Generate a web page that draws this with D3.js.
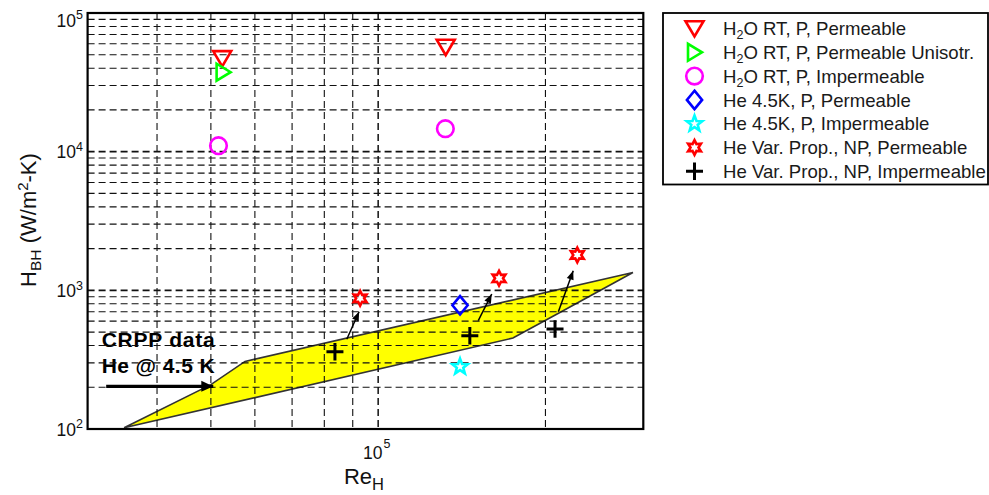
<!DOCTYPE html>
<html><head><meta charset="utf-8">
<script src="https://cdn.jsdelivr.net/npm/d3@7"></script>
<style>body{margin:0;background:#fff;} text{font-family:Arial,"Liberation Sans",sans-serif;}</style>
</head><body><svg id="c" width="989" height="495"></svg>
<script>
// ---- data ----
const xDomain = [3e4, 3e5];
const yDomain = [1e2, 1e5];
const xTickValues = [1e5];
const xTickExp = ["5"];
const yTickValues = [1e2, 1e3, 1e4, 1e5];
const yTickExp = ["2", "3", "4", "5"];

const h2oPermX = [5.24e4, 1.323e5];
const h2oPermY = [4.70e4, 5.68e4];
const h2oUniX = [5.26e4];
const h2oUniY = [3.74e4];
const h2oImpX = [5.16e4, 1.321e5];
const h2oImpY = [1.104e4, 1.464e4];
const he45PermX = [1.404e5];
const he45PermY = [780];
const he45ImpX = [1.404e5];
const he45ImpY = [281];
const heVarPermX = [9.28e4, 1.65e5, 2.282e5];
const heVarPermY = [876, 1221, 1798];
const heVarImpX = [8.36e4, 1.462e5, 2.081e5];
const heVarImpY = [361, 470, 526];

// CRPP data band (He @ 4.5 K)
const crppX = [3.49e4, 5.0e4, 5.76e4, 2.874e5, 2.107e5, 1.748e5];
const crppY = [102, 209, 307, 1345, 681, 453];

// arrows from NP-impermeable toward NP-permeable
const arrFromX = [8.78e4, 1.514e5, 2.110e5];
const arrFromY = [444, 604, 701];
const arrToX = [9.24e4, 1.601e5, 2.244e5];
const arrToY = [701, 941, 1386];

const crppArrowX = [3.24e4, 5.05e4];
const crppArrowY = [203, 203];
const crppTextX = [3.18e4, 3.18e4];
const crppTextY = [388, 252];
const crppText = ["CRPP data", "He @ 4.5 K"];

const legendLabels = [
  ["H", "2", "O RT, P, Permeable"],
  ["H", "2", "O RT, P, Permeable Unisotr."],
  ["H", "2", "O RT, P, Impermeable"],
  ["He 4.5K, P, Permeable"],
  ["He 4.5K, P, Impermeable"],
  ["He Var. Prop., NP, Permeable"],
  ["He Var. Prop., NP, Impermeable"]
];

// ---- chart ----
const svg = d3.select("#c");
const x = d3.scaleLog().domain(xDomain).range([87.6, 643.3]);
const y = d3.scaleLog().domain(yDomain).range([429, 13]);

const defs = svg.append("defs");
defs.append("marker").attr("id", "ah").attr("markerUnits", "userSpaceOnUse")
  .attr("viewBox", "-10 -5 10 10").attr("refX", 0).attr("refY", 0)
  .attr("markerWidth", 10).attr("markerHeight", 10).attr("orient", "auto")
  .append("path").attr("d", "M0,0L-9,-3.6L-9,3.6Z").attr("fill", "#000");
defs.append("marker").attr("id", "ahBig").attr("markerUnits", "userSpaceOnUse")
  .attr("viewBox", "-14 -7 14 14").attr("refX", 0).attr("refY", 0)
  .attr("markerWidth", 14).attr("markerHeight", 14).attr("orient", "auto")
  .append("path").attr("d", "M0,0L-12,-5.5L-12,5.5Z").attr("fill", "#000");

// CRPP band
svg.append("path")
  .datum(d3.zip(crppX, crppY))
  .attr("d", d3.line().x(d => x(d[0])).y(d => y(d[1])).curve(d3.curveLinearClosed))
  .attr("fill", "#ffff00").attr("stroke", "#333").attr("stroke-width", 1.6);

// annotation text
svg.selectAll("text.crpp").data(crppText).join("text").attr("class", "crpp")
  .attr("x", (d, i) => x(crppTextX[i])).attr("y", (d, i) => y(crppTextY[i]))
  .attr("font-size", 21).attr("font-weight", "bold").attr("textLength", 113)
  .attr("lengthAdjust", "spacing").attr("fill", "#000").text(d => d);

// grid
const gx = x.ticks().filter(v => v > xDomain[0] * 1.001 && v < xDomain[1] * 0.999);
const gy = y.ticks().filter(v => v > yDomain[0] * 1.001 && v < yDomain[1] * 0.999);
const isMajor = v => Math.abs(Math.log10(v) - Math.round(Math.log10(v))) < 1e-9;
const grid = svg.append("g").attr("stroke", "#111").attr("stroke-dasharray", "7,4").attr("fill", "none");
grid.selectAll("line.gx").data(gx).join("line").attr("class", "gx")
  .attr("x1", d => x(d)).attr("x2", d => x(d)).attr("y1", 13).attr("y2", 429)
  .attr("stroke-width", d => isMajor(d) ? 1.5 : 1.1);
grid.selectAll("line.gy").data(gy).join("line").attr("class", "gy")
  .attr("y1", d => y(d)).attr("y2", d => y(d)).attr("x1", 87.6).attr("x2", 643.3)
  .attr("stroke-width", d => isMajor(d) ? 1.7 : 1.1);

// box
svg.append("rect").attr("x", 87.6).attr("y", 13).attr("width", 643.3 - 87.6).attr("height", 429 - 13)
  .attr("fill", "none").attr("stroke", "#000").attr("stroke-width", 2.2);

// tick labels
const yl = svg.selectAll("text.yt").data(yTickValues).join("text").attr("class", "yt")
  .attr("x", 83).attr("y", d => Math.max(y(d), 20) + 6.8)
  .attr("text-anchor", "end").attr("font-size", 17.5).attr("fill", "#111");
yl.append("tspan").text("10");
yl.append("tspan").attr("font-size", 12.5).attr("dy", -7.5).text((d, i) => yTickExp[i]);

const xl = svg.selectAll("text.xt").data(xTickValues).join("text").attr("class", "xt")
  .attr("x", d => x(d) - 1.5).attr("y", 458.5)
  .attr("text-anchor", "middle").attr("font-size", 17.5).attr("fill", "#111");
xl.append("tspan").text("10");
xl.append("tspan").attr("font-size", 12.5).attr("dy", -11).attr("dx", 1).text((d, i) => xTickExp[i]);

// axis labels
const xlab = svg.append("text").attr("x", 364).attr("y", 484).attr("text-anchor", "middle")
  .attr("font-size", 22).attr("fill", "#111");
xlab.append("tspan").text("Re");
xlab.append("tspan").attr("font-size", 16.5).attr("dy", 5.5).text("H");

const ylab = svg.append("text").attr("transform", "translate(36,220) rotate(-90)")
  .attr("text-anchor", "middle").attr("font-size", 22).attr("fill", "#111");
ylab.append("tspan").text("H");
ylab.append("tspan").attr("font-size", 15.5).attr("dy", 5).text("BH");
ylab.append("tspan").attr("dy", -5).text(" (W/m");
ylab.append("tspan").attr("font-size", 15).attr("dy", -8).text("2");
ylab.append("tspan").attr("dy", 8).text("-K)");

// arrows
svg.selectAll("line.arr").data(arrFromX).join("line").attr("class", "arr")
  .attr("x1", (d, i) => x(arrFromX[i])).attr("y1", (d, i) => y(arrFromY[i]))
  .attr("x2", (d, i) => x(arrToX[i])).attr("y2", (d, i) => y(arrToY[i]))
  .attr("stroke", "#000").attr("stroke-width", 1.5).attr("marker-end", "url(#ah)");
svg.append("line")
  .attr("x1", x(crppArrowX[0])).attr("y1", y(crppArrowY[0]))
  .attr("x2", x(crppArrowX[1])).attr("y2", y(crppArrowY[1]))
  .attr("stroke", "#000").attr("stroke-width", 3.2).attr("marker-end", "url(#ahBig)");

// marker shapes
function star(n, R, r) {
  const pts = [];
  for (let k = 0; k < 2 * n; k++) {
    const a = -Math.PI / 2 + k * Math.PI / n;
    const rr = k % 2 === 0 ? R : r;
    pts.push([rr * Math.cos(a), rr * Math.sin(a)]);
  }
  return "M" + pts.map(p => p[0].toFixed(2) + "," + p[1].toFixed(2)).join("L") + "Z";
}
const shapes = {
  tdown: "M-9,-7.3L9,-7.3L0,8Z",
  tright: "M-6.5,-8.5L-6.5,8.5L7.5,0Z",
  circle: "M8.3,0A8.3,8.3 0 1 1 -8.3,0A8.3,8.3 0 1 1 8.3,0Z",
  diamond: "M0,-9.2L7.6,0L0,9.2L-7.6,0Z",
  pent: star(5, 8.2, 3.4),
  hex: star(6, 7.4, 4.0),
  plus: "M-8.5,0L8.5,0M0,-8.8L0,8.8"
};
const series = [
  {xs: h2oPermX, ys: h2oPermY, shape: "tdown", color: "#ff0000", w: 2.6},
  {xs: h2oUniX, ys: h2oUniY, shape: "tright", color: "#00ff00", w: 2.6},
  {xs: h2oImpX, ys: h2oImpY, shape: "circle", color: "#ff00ff", w: 2.6},
  {xs: he45PermX, ys: he45PermY, shape: "diamond", color: "#0000ff", w: 2.6},
  {xs: he45ImpX, ys: he45ImpY, shape: "pent", color: "#00ffff", w: 2.6},
  {xs: heVarPermX, ys: heVarPermY, shape: "hex", color: "#ff0000", w: 2.6},
  {xs: heVarImpX, ys: heVarImpY, shape: "plus", color: "#000000", w: 3}
];
series.forEach(s => {
  svg.append("g").selectAll("path").data(s.xs).join("path")
    .attr("transform", (d, i) => `translate(${x(s.xs[i])},${y(s.ys[i])})`)
    .attr("d", shapes[s.shape]).attr("fill", "none")
    .attr("stroke", s.color).attr("stroke-width", s.w).attr("stroke-linejoin", "miter");
});

// legend
const lg = svg.append("g");
lg.append("rect").attr("x", 663).attr("y", 13).attr("width", 325).attr("height", 171.5)
  .attr("fill", "#fff").attr("stroke", "#000").attr("stroke-width", 1.8);
series.forEach((s, i) => {
  const cy = 28.5 + i * 23.8;
  lg.append("path").attr("transform", `translate(694.5,${cy})`).attr("d", shapes[s.shape])
    .attr("fill", "none").attr("stroke", s.color).attr("stroke-width", s.w);
  const t = lg.append("text").attr("x", 723).attr("y", cy + 6.6).attr("font-size", 18.6).attr("fill", "#1a1a1a");
  const parts = legendLabels[i];
  if (parts.length === 3) {
    t.append("tspan").text(parts[0]);
    t.append("tspan").attr("font-size", 12.5).attr("dy", 4).text(parts[1]);
    t.append("tspan").attr("dy", -4).text(parts[2]);
  } else {
    t.text(parts[0]);
  }
});
</script></body></html>
